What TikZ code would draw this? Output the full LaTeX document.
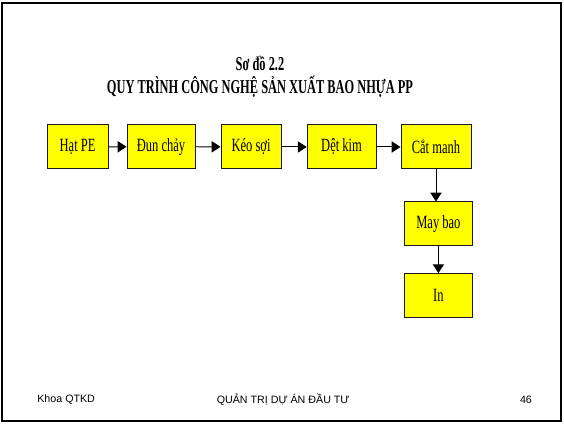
\documentclass[tikz,border=0pt]{standalone}
\usepackage{fontspec}
\setsansfont{Liberation Sans}
\newfontfamily\narrowserif{Liberation Serif}[FakeStretch=0.67]
\newfontfamily\headserif{Liberation Serif}[FakeStretch=0.63]
\usetikzlibrary{arrows.meta, positioning}
\definecolor{cyellow}{HTML}{FFFF00}
\definecolor{cframe}{HTML}{1A1A1A}
\tikzset{
  stepbox/.style={draw=cframe, fill=cyellow, line width=0.7pt, minimum height=1.1cm, minimum width=#1, inner sep=2pt, font=\narrowserif\fontsize{13.3}{15}\selectfont},
  stepbox/.default=1.72cm,
  arrow/.style={-{Triangle[length=2.2mm, width=2.8mm]}, draw=black, line width=0.7pt},
  title/.style={font=\headserif\bfseries\fontsize{14}{16.5}\selectfont, align=center},
  footer/.style={font=\sffamily\fontsize{7.6}{9}\selectfont},
}

\begin{document}
\begin{tikzpicture}
  \useasboundingbox (0,0) rectangle (14.1,10.6);
  \draw[line width=1.4pt] (0.06,0.07) rectangle (14.03,10.53);
  % title
  \node[title] (head) at (6.5,8.69) {Sơ đồ 2.2\\QUY TRÌNH CÔNG NGHỆ SẢN XUẤT BAO NHỰA PP};
  % process steps
  \node[stepbox=1.52cm] (hat) at (1.94,6.925) {Hạt PE};
  \node[stepbox=1.7cm] (dun) at (4.025,6.935) {Đun chảy};
  \node[stepbox=1.5cm] (keo) at (6.275,6.925) {Kéo sợi};
  \node[stepbox] (det) at (8.54,6.925) {Dệt kim};
  \node[stepbox=1.75cm] (cat) at (10.9,6.925) {Cắt manh};
  \node[stepbox] (may) at (10.96,5.0) {May bao};
  \node[stepbox] (in) at (10.96,3.21) {In};
  \foreach \a/\b in {hat/dun, dun/keo, keo/det, det/cat} \draw[arrow] (\a) -- (\b);
  \draw[arrow] (cat.south) -- (cat.south |- may.north);
  \draw[arrow] (may) -- (in);
  % footer
  \node[footer, anchor=west] (dept) at (0.81,0.6) {Khoa QTKD};
  \node[footer] (course) at (7.08,0.6) {QUẢN TRỊ DỰ ÁN ĐẦU TƯ};
  \node[footer] (page) at (13.15,0.6) {46};
\end{tikzpicture}
\end{document}
